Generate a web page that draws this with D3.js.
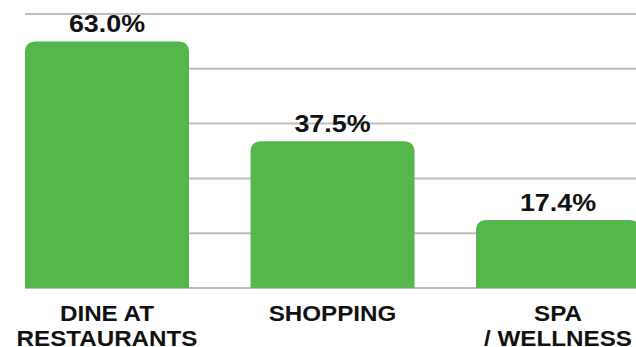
<!DOCTYPE html>
<html>
<head>
<meta charset="utf-8">
<script src="https://cdn.jsdelivr.net/npm/d3@7"></script>
<style>
  html, body { margin: 0; padding: 0; background: #ffffff; }
  svg { display: block; }
  text { font-family: "Liberation Sans", Arial, sans-serif; font-weight: bold; fill: #111111; }
</style>
</head>
<body>
<div id="chart"></div>
<script>
// Share of respondents by activity (percent)
const categories = ["DINE AT\nRESTAURANTS", "SHOPPING", "SPA\n/ WELLNESS"];
const values = [63.0, 37.5, 17.4];
const valueLabels = ["63.0%", "37.5%", "17.4%"];
const gridTicks = [0, 14, 28, 42, 56, 70];

const width = 636, height = 347;
const left = 25, baseY = 288, topY = 14;
const step = 225.5, barW = 164;
const valueStretch = 1.12, catStretch = 1.1; // wide lettering

const svg = d3.select("#chart").append("svg")
  .attr("width", width).attr("height", height);

const x = d3.scaleBand()
  .domain(categories)
  .range([left, left + step * (categories.length - 1) + barW])
  .paddingInner((step - barW) / step)
  .paddingOuter(0);

const y = d3.scaleLinear().domain([0, 70]).range([baseY, topY]);

// horizontal gridlines
svg.append("g").selectAll("line").data(gridTicks).join("line")
  .attr("x1", left).attr("x2", width)
  .attr("y1", d => y(d)).attr("y2", d => y(d))
  .attr("stroke", "#bfbfbf").attr("stroke-width", 2);

// bars with rounded top corners
const r = 11;
function barPath(x0, y0, w, y1) {
  return `M${x0},${y1} L${x0},${y0 + r} Q${x0},${y0} ${x0 + r},${y0} ` +
         `L${x0 + w - r},${y0} Q${x0 + w},${y0} ${x0 + w},${y0 + r} L${x0 + w},${y1} Z`;
}
svg.append("g").selectAll("path").data(values).join("path")
  .attr("d", (d, i) => barPath(x(categories[i]), y(d), x.bandwidth(), y(0)))
  .attr("fill", "#55b74b");

// value labels above bars
svg.append("g").selectAll("text").data(values).join("text")
  .attr("transform", (d, i) =>
    `translate(${x(categories[i]) + x.bandwidth() / 2},${y(d) - 9}) scale(${valueStretch},1)`)
  .attr("text-anchor", "middle")
  .style("font-size", "24px")
  .text((d, i) => valueLabels[i]);

// category labels under the baseline
const cat = svg.append("g").selectAll("text").data(categories).join("text")
  .attr("transform", d => `translate(${x(d) + x.bandwidth() / 2},320.5) scale(${catStretch},1)`)
  .attr("text-anchor", "middle")
  .style("font-size", "22px");
cat.each(function(d) {
  const t = d3.select(this);
  d.split("\n").forEach((line, k) => {
    t.append("tspan").attr("x", 0).attr("dy", k === 0 ? 0 : 26).text(line);
  });
});
</script>
</body>
</html>
